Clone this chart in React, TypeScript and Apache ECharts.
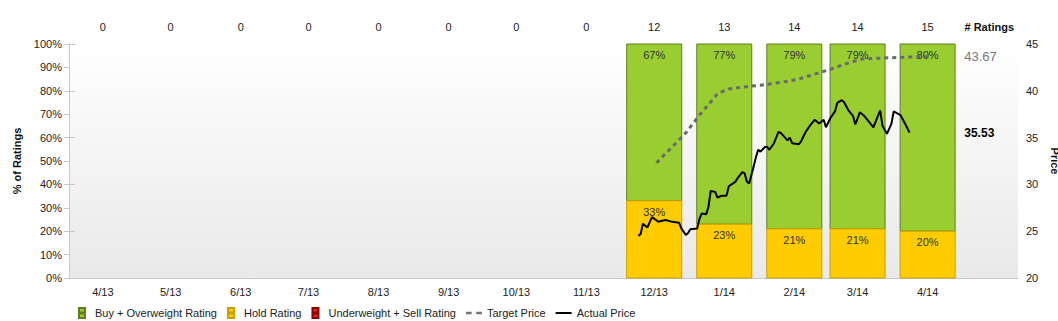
import React, { useEffect, useRef } from "react";
import * as echarts from "echarts";

const FONT = "'Liberation Sans', Arial, sans-serif";

const monthDates = ["2013-04-15","2013-05-15","2013-06-15","2013-07-15","2013-08-15","2013-09-15","2013-10-15","2013-11-15","2013-12-15","2014-01-15","2014-02-15","2014-03-15","2014-04-15"];
const monthLabels = ["4/13","5/13","6/13","7/13","8/13","9/13","10/13","11/13","12/13","1/14","2/14","3/14","4/14"];
const ratingCounts = [0,0,0,0,0,0,0,0,12,13,14,14,15];
const buyPct = [null,null,null,null,null,null,null,null,67,77,79,79,80];
const holdPct = [null,null,null,null,null,null,null,null,33,23,21,21,20];
const sellPct = [null,null,null,null,null,null,null,null,null,null,null,null,null];

const priceDates = ["2013-12-08","2013-12-09","2013-12-10","2013-12-12","2013-12-14","2013-12-17","2013-12-18","2013-12-20","2013-12-23","2013-12-26",
  "2013-12-27","2013-12-29","2013-12-30","2013-12-31","2014-01-03","2014-01-04","2014-01-05","2014-01-07","2014-01-08","2014-01-09",
  "2014-01-11","2014-01-12","2014-01-14","2014-01-16","2014-01-17","2014-01-20","2014-01-21","2014-01-23","2014-01-24","2014-01-25",
  "2014-01-26","2014-01-28","2014-01-29","2014-01-30","2014-01-31","2014-02-02","2014-02-03","2014-02-04","2014-02-06","2014-02-08",
  "2014-02-09","2014-02-12","2014-02-13","2014-02-14","2014-02-17","2014-02-18","2014-02-20","2014-02-22","2014-02-24","2014-02-26",
  "2014-02-28","2014-03-01","2014-03-03","2014-03-05","2014-03-06","2014-03-08","2014-03-09","2014-03-11","2014-03-13","2014-03-14",
  "2014-03-16","2014-03-18","2014-03-20","2014-03-22","2014-03-23","2014-03-25","2014-03-26","2014-03-28","2014-03-30","2014-03-31",
  "2014-04-03","2014-04-05","2014-04-07"];
const priceValues = [24.5,24.7,25.8,25.4,26.5,26.0,26.1,26.2,26.0,25.9,
  25.3,24.6,24.8,25.2,25.3,26.3,26.9,26.8,27.6,29.3,
  29.2,28.6,28.8,28.8,29.8,30.3,30.7,31.3,31.2,30.3,
  30.1,31.9,32.9,33.7,33.5,34.0,34.0,33.7,34.4,35.6,
  35.5,34.7,35.0,34.4,34.3,34.6,35.6,36.3,36.9,36.5,
  36.9,36.1,37.1,37.8,38.7,39.0,38.8,37.9,37.3,36.4,
  37.7,37.3,36.7,36.1,36.7,37.9,36.3,35.4,36.5,37.8,
  37.4,36.5,35.53];

const targetDates = ["2013-12-16","2013-12-29","2014-01-04","2014-01-09","2014-01-12","2014-01-17","2014-01-23","2014-01-31","2014-02-09","2014-02-16","2014-02-23","2014-03-03","2014-03-10","2014-03-17","2014-03-26","2014-04-07","2014-04-16"];
const targetValues = [32.3,35.5,37.4,38.8,39.7,40.2,40.4,40.6,40.9,41.2,41.7,42.3,42.9,43.4,43.5,43.6,43.67];

const axisStart = "2013-03-31";
const axisEnd = "2014-05-25";
const valueLabelDate = "2014-05-01";

// day number counted from the axis start date
const day = (s: string) => {
  const [y, m, d] = s.split("-").map(Number);
  const [y0, m0, d0] = axisStart.split("-").map(Number);
  return Math.round((Date.UTC(y, m - 1, d) - Date.UTC(y0, m0 - 1, d0)) / 86400000);
};

const BAR_W = 55;

export default function App() {
  const ref = useRef<HTMLDivElement>(null);
  useEffect(() => {
    if (!ref.current) return;
    const chart = echarts.init(ref.current, null, { renderer: "svg" });
    const monthDays = monthDates.map(day);
    const xMax = day(axisEnd);

    const seg = (vals: (number | null)[], bases: (number | null)[][]) =>
      vals
        .map((v, i) => {
          if (v == null) return null;
          const base = bases.reduce((s, arr) => s + (arr[i] ?? 0), 0);
          return [monthDays[i], base, v];
        })
        .filter((x) => x !== null);

    const renderBar = (params: any, api: any) => {
      const x = api.value(0);
      const base = api.value(1);
      const v = api.value(2);
      const p0 = api.coord([x, base]);
      const p1 = api.coord([x, base + v]);
      const style = api.style();
      return {
        type: "rect",
        shape: { x: p0[0] - BAR_W / 2, y: p1[1], width: BAR_W, height: p0[1] - p1[1] },
        style: { fill: style.fill, stroke: style.stroke, lineWidth: 1 },
        textContent: {
          type: "text",
          style: { text: v + "%", fill: "#333", font: `11px ${FONT}` },
        },
        textConfig: { position: "insideTop", distance: 6 },
      };
    };

    const lastPrice = priceValues[priceValues.length - 1];
    const lastTarget = targetValues[targetValues.length - 1];
    const barIcon = "path://M0,0H6V4.5H0Z M0,5.5H6V10H0Z";

    const xAxisBase = {
      type: "value",
      min: 0,
      max: xMax,
      interval: 60,
      splitLine: { show: false },
      axisTick: { show: false },
    };

    chart.setOption({
      animation: false,
      textStyle: { fontFamily: FONT },
      grid: {
        left: 69,
        right: 40,
        top: 44,
        bottom: 43,
        outerBoundsMode: "none",
        containLabel: false,
        show: true,
        borderWidth: 0,
        backgroundColor: new echarts.graphic.LinearGradient(0, 0, 0, 1, [
          { offset: 0, color: "#ffffff" },
          { offset: 1, color: "#e9e9e9" },
        ]),
      },
      legend: {
        left: 73,
        top: 302,
        itemWidth: 16,
        itemHeight: 10,
        itemGap: 10,
        textStyle: { fontSize: 11, color: "#222", fontFamily: FONT },
        data: [
          { name: "Buy + Overweight Rating", icon: barIcon },
          { name: "Hold Rating", icon: barIcon },
          { name: "Underweight + Sell Rating", icon: barIcon },
          { name: "Target Price", icon: "path://M0,4H5V6H0Z M9,4H14V6H9Z", itemStyle: { color: "#777", borderWidth: 0 } },
          { name: "Actual Price", icon: "path://M0,4H18V6.2H0Z", itemStyle: { color: "#000", borderWidth: 0 } },
        ],
      },
      xAxis: [
        {
          ...xAxisBase,
          axisLine: { show: true, lineStyle: { color: "#c8c8c8" } },
          axisLabel: {
            customValues: monthDays,
            formatter: (v: number) => monthLabels[monthDays.indexOf(v)] ?? "",
            color: "#222", fontSize: 11, margin: 8, hideOverlap: false,
          },
        },
        {
          ...xAxisBase,
          position: "top",
          axisLine: { show: false },
          axisLabel: {
            customValues: monthDays,
            formatter: (v: number) => {
              const i = monthDays.indexOf(v);
              return i >= 0 ? String(ratingCounts[i]) : "";
            },
            color: "#222", fontSize: 11, margin: 12, hideOverlap: false,
          },
        },
      ],
      yAxis: [
        {
          type: "value", min: 0, max: 100, interval: 10, position: "left",
          name: "% of Ratings", nameLocation: "middle", nameGap: 38,
          nameTextStyle: { fontWeight: "bold", fontSize: 11, color: "#111" },
          axisLine: { show: true, lineStyle: { color: "#c8c8c8" } },
          axisTick: { show: true, length: 5, lineStyle: { color: "#c8c8c8" } },
          splitLine: { show: false },
          axisLabel: { formatter: "{value}%", color: "#222", fontSize: 11, margin: 7 },
        },
        {
          type: "value", min: 20, max: 45, interval: 5, position: "right",
          name: "Price", nameLocation: "middle", nameGap: 9, nameRotate: -90,
          nameTextStyle: { fontWeight: "bold", fontSize: 11, color: "#111" },
          axisLine: { show: true, lineStyle: { color: "#c8c8c8" } },
          axisTick: { show: true, length: 6, lineStyle: { color: "#c8c8c8" } },
          splitLine: { show: false },
          axisLabel: { color: "#222", fontSize: 11, margin: 8 },
        },
      ],
      graphic: [
        { type: "text", right: 44, top: 21, style: { text: "# Ratings", font: `bold 11px ${FONT}`, fill: "#111" } },
      ],
      series: [
        {
          name: "Buy + Overweight Rating", type: "custom", xAxisIndex: 0, yAxisIndex: 0,
          itemStyle: { color: "#9acd32", borderColor: "#5f7f1f", borderWidth: 1 },
          encode: { x: 0, y: 2 }, renderItem: renderBar, data: seg(buyPct, [holdPct, sellPct]),
        },
        {
          name: "Hold Rating", type: "custom", xAxisIndex: 0, yAxisIndex: 0,
          itemStyle: { color: "#ffcc00", borderColor: "#c9a000", borderWidth: 1 },
          encode: { x: 0, y: 2 }, renderItem: renderBar, data: seg(holdPct, [sellPct]),
        },
        {
          name: "Underweight + Sell Rating", type: "custom", xAxisIndex: 0, yAxisIndex: 0,
          itemStyle: { color: "#e32322", borderColor: "#8b0000", borderWidth: 1 },
          encode: { x: 0, y: 2 }, renderItem: renderBar, data: seg(sellPct, []),
        },
        {
          name: "Target Price", type: "line", xAxisIndex: 0, yAxisIndex: 1,
          showSymbol: false, symbol: "none", z: 3,
          itemStyle: { color: "#6a6a6a" },
          lineStyle: { color: "#6a6a6a", width: 3, type: [4, 4] },
          data: targetDates.map((d, i) => [day(d), targetValues[i]]),
          markPoint: {
            symbol: "rect", symbolSize: 1, itemStyle: { color: "rgba(0,0,0,0)" },
            label: { show: true, position: "right", distance: 0, color: "#777", fontSize: 13, formatter: () => lastTarget.toFixed(2) },
            data: [{ coord: [day(valueLabelDate), lastTarget] }],
          },
        },
        {
          name: "Actual Price", type: "line", xAxisIndex: 0, yAxisIndex: 1,
          showSymbol: false, symbol: "none", z: 4,
          itemStyle: { color: "#000" },
          lineStyle: { color: "#000", width: 2 },
          data: priceDates.map((d, i) => [day(d), priceValues[i]]),
          markPoint: {
            symbol: "rect", symbolSize: 1, itemStyle: { color: "rgba(0,0,0,0)" },
            label: { show: true, position: "right", distance: 0, color: "#000", fontWeight: "bold", fontSize: 12, formatter: () => lastPrice.toFixed(2) },
            data: [{ coord: [day(valueLabelDate), lastPrice] }],
          },
        },
      ],
    });
    return () => chart.dispose();
  }, []);
  return (
    <div
      ref={ref}
      style={{ position: "fixed", left: 0, top: 0, width: 1058, height: 321, background: "#fff" }}
    />
  );
}
